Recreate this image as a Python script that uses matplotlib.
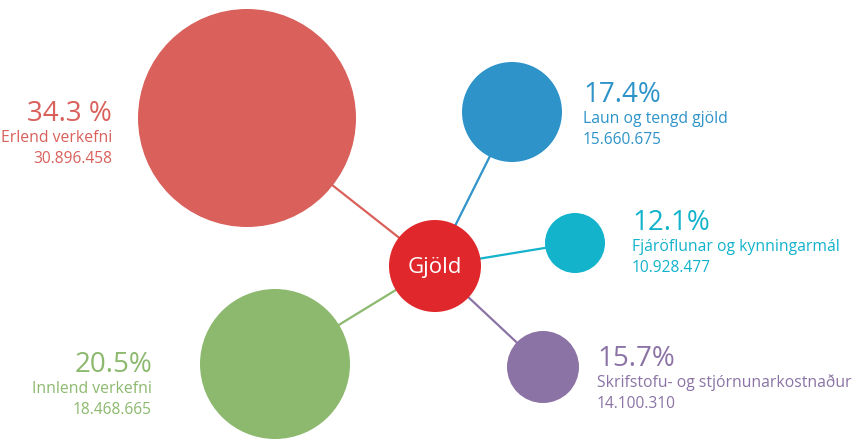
import matplotlib.pyplot as plt
from matplotlib.patches import Circle

# gögn
labels = ['Erlend verkefni', 'Laun og tengd gjöld', 'Fjáröflunar og kynningarmál',
          'Skrifstofu- og stjórnunarkostnaður', 'Innlend verkefni']
amounts = ['30.896.458', '15.660.675', '10.928.477', '14.100.310', '18.468.665']
percents = ['34.3 %', '17.4%', '12.1%', '15.7%', '20.5%']
center_label = 'Gjöld'

# útlit (pixlar)
colors = ['#D9605B', '#2E93C9', '#13B3CC', '#8B74A5', '#8CB96E']
node_xy = [(247, 118), (512, 112), (575, 243), (543, 367), (275, 364)]
node_r = [109, 50, 30, 36, 75]
text_xy = [(112, 121), (583, 102), (632, 230), (597, 366), (152, 372)]
text_ha = ['right', 'left', 'left', 'left', 'right']
center_xy = (435, 266)
center_r = 46

plt.rcParams['font.family'] = ['Open Sans', 'DejaVu Sans']

fig = plt.figure(figsize=(8.52, 4.40), dpi=100)
ax = fig.add_axes([0, 0, 1, 1])
ax.set_xlim(0, 852)
ax.set_ylim(440, 0)
ax.set_aspect('equal')
ax.axis('off')

for i in range(len(labels)):
    x, y = node_xy[i]
    ax.plot([center_xy[0], x], [center_xy[1], y], color=colors[i], lw=1.6, zorder=1)
    ax.add_patch(Circle((x, y), node_r[i], color=colors[i], lw=0, zorder=2))
    tx, ty = text_xy[i]
    ax.text(tx, ty, percents[i], color=colors[i], fontsize=20, ha=text_ha[i], va='baseline')
    ax.text(tx, ty + 21, labels[i], color=colors[i], fontsize=11.3, ha=text_ha[i], va='baseline')
    ax.text(tx, ty + 42, amounts[i], color=colors[i], fontsize=11.2, ha=text_ha[i], va='baseline')

ax.add_patch(Circle(center_xy, center_r, color='#E0282C', lw=0, zorder=3))
ax.text(center_xy[0], center_xy[1] + 1, center_label, color='white', fontsize=16,
        ha='center', va='center', zorder=4)

fig.savefig('out.png', dpi=100)
